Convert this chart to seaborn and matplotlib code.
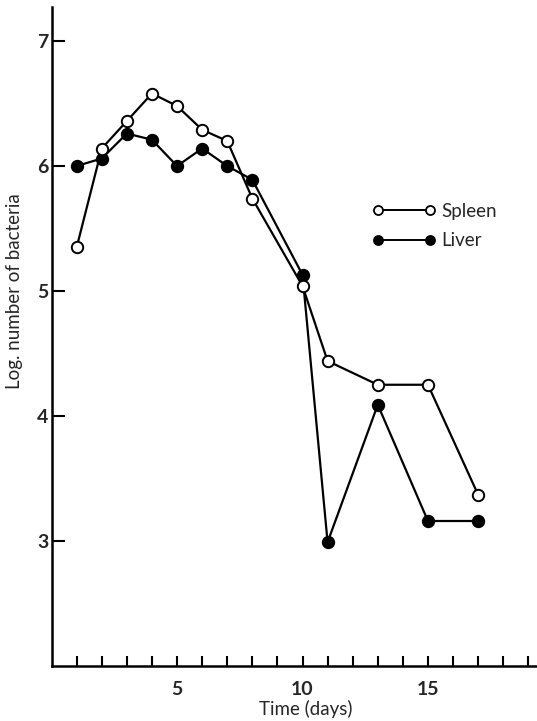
import matplotlib
matplotlib.use("Agg")
import matplotlib.pyplot as plt
import seaborn as sns
import pandas as pd
from matplotlib.lines import Line2D

# Data
spleen_days = [1, 2, 3, 4, 5, 6, 7, 8, 10, 11, 13, 15, 17]
spleen_log = [5.35, 6.14, 6.36, 6.58, 6.48, 6.29, 6.20, 5.74, 5.04, 4.44, 4.25, 4.25, 3.37]
liver_days = [1, 2, 3, 4, 5, 6, 7, 8, 10, 11, 13, 15, 17]
liver_log = [6.00, 6.06, 6.26, 6.21, 6.00, 6.14, 6.00, 5.89, 5.13, 2.99, 4.09, 3.16, 3.16]
series_names = ["Spleen", "Liver"]
x_tick_positions = list(range(1, 20))
x_tick_labels = ["5", "10", "15"]
y_tick_positions = [3, 4, 5, 6, 7]
y_tick_labels = ["3", "4", "5", "6", "7"]

sns.set_theme(style="white")
plt.rcParams["font.family"] = ["Lato", "DejaVu Sans"]

fig = plt.figure(figsize=(5.37, 7.21), dpi=100)
W, H = 537, 721
x0, x1 = 51.6, 535.5
y_top, y_bot = 7, 666
ax = fig.add_axes([x0 / W, 1 - y_bot / H, (x1 - x0) / W, (y_bot - y_top) / H])

df_s = pd.DataFrame({"day": spleen_days, "log": spleen_log})
df_l = pd.DataFrame({"day": liver_days, "log": liver_log})

common = dict(color="black", linewidth=1.6, markersize=8.2, markeredgewidth=1.4,
              markeredgecolor="black", legend=False)
sns.lineplot(data=df_s, x="day", y="log", ax=ax, marker="o", markerfacecolor="white",
             zorder=3, **common)
sns.lineplot(data=df_l, x="day", y="log", ax=ax, marker="o", markerfacecolor="black",
             zorder=2, **common)

ax.set_xlim(0, (x1 - x0) / 25.09)
ax.set_ylim(2, 2 + (y_bot - y_top) / 125.0)

for s in ["top", "right"]:
    ax.spines[s].set_visible(False)
for s in ["left", "bottom"]:
    ax.spines[s].set_color("black")
    ax.spines[s].set_linewidth(1.8)

ax.set_xticks(x_tick_positions)
ax.set_xticklabels([str(t) if str(t) in x_tick_labels else "" for t in x_tick_positions])
ax.set_yticks(y_tick_positions)
ax.set_yticklabels(y_tick_labels)
ax.tick_params(axis="x", direction="in", length=7.5, width=1.5, color="black",
               pad=10.5, labelsize=14, bottom=True)
ax.tick_params(axis="y", direction="in", length=9, width=1.5, color="black",
               pad=2.5, labelsize=14, left=True)
for lab in ax.get_xticklabels() + ax.get_yticklabels():
    lab.set_fontweight("bold")

ax.set_xlabel("Time (days)", fontsize=13.5, fontweight="normal")
ax.set_ylabel("Log. number of bacteria", fontsize=13.5, fontweight="normal")
ax.xaxis.set_label_coords((306 - x0) / (x1 - x0), -(709 - y_bot) / (y_bot - y_top))
ax.yaxis.set_label_coords((15 - x0) / (x1 - x0), (y_bot - 291) / (y_bot - y_top))
ax.xaxis.label.set_va("center")
ax.yaxis.label.set_va("center")

handles = [
    Line2D([], [], color="black", linewidth=1.4, marker="o", markersize=6.5,
           markerfacecolor="white", markeredgecolor="black", markeredgewidth=1.3),
    Line2D([], [], color="black", linewidth=1.4, marker="o", markersize=6.5,
           markerfacecolor="black", markeredgecolor="black", markeredgewidth=1.3),
]
leg = fig.legend(handles, series_names, loc="upper left",
                 bbox_to_anchor=(372 / W, 1 - 203 / H), bbox_transform=fig.transFigure,
                 frameon=False, numpoints=2, handlelength=3.4, handletextpad=0.3,
                 borderpad=0, borderaxespad=0, labelspacing=0.65,
                 prop={"family": "Lato", "weight": "normal", "size": 13.5})

fig.savefig("out.png", dpi=100)
